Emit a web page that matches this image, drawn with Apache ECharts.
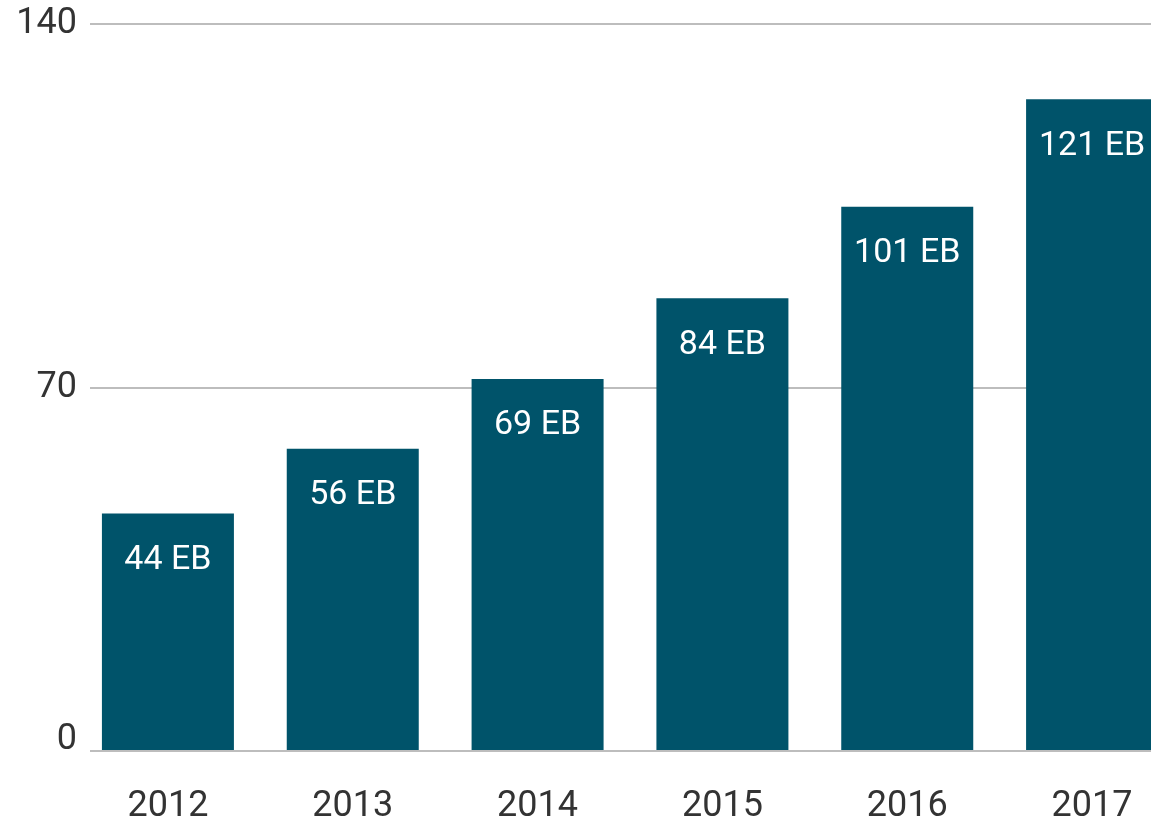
<!DOCTYPE html>
<html>
<head>
<meta charset="utf-8">
<script src="https://cdn.jsdelivr.net/npm/echarts@6/dist/echarts.min.js"></script>
<style>
	html, body { margin: 0; padding: 0; background: #fff; overflow: hidden; }
	/* 画布比窗口宽, 最后一根柱子被窗口截断 */
	#chart { width: 1200px; height: 825px; }
</style>
</head>
<body>
<div id="chart"></div>
<script>
	// 年份
	var years = ['2012', '2013', '2014', '2015', '2016', '2017'];
	// 数据量 (EB)
	var volumes = [44, 56, 69, 84, 101, 121];
	// 刻度
	var yTicks = [0, 70, 140];

	var fontFamily = 'Roboto';
	var textColor = '#333333';
	var barColor = '#00536a';

	var chart = echarts.init(document.getElementById('chart'));

	var option = {
		animation: false,
		backgroundColor: '#ffffff',
		grid: [{
			// 网格线 (到窗口右边 1151)
			left: 90,
			right: 49,
			top: 24,
			bottom: 74
		}, {
			// 柱子
			left: 75.5,
			right: 15.5,
			top: 24,
			bottom: 74
		}],
		xAxis: [{
			gridIndex: 0,
			type: 'value',
			min: 0,
			max: 1,
			show: false
		}, {
			gridIndex: 1,
			type: 'category',
			data: years,
			axisLine: { show: false },
			axisTick: { show: false },
			axisLabel: {
				margin: 39,
				color: textColor,
				fontSize: 36,
				fontFamily: fontFamily
			}
		}],
		yAxis: [{
			gridIndex: 0,
			type: 'value',
			min: yTicks[0],
			max: yTicks[yTicks.length - 1],
			interval: yTicks[1] - yTicks[0],
			axisLine: { show: false },
			axisTick: { show: false },
			axisLabel: {
				margin: 13,
				color: textColor,
				fontSize: 36,
				fontFamily: fontFamily,
				formatter: function(v) {
					return v === 0 ? '{z|0}' : String(v);
				},
				rich: {
					z: {
						fontSize: 36,
						fontFamily: fontFamily,
						color: textColor,
						padding: [0, 0, 22, 0]
					}
				}
			},
			splitLine: {
				lineStyle: { color: '#bdbdbd', width: 2 }
			}
		}, {
			gridIndex: 1,
			type: 'value',
			min: 0,
			max: 135,
			show: false,
			splitLine: { show: false }
		}],
		series: [{
			type: 'bar',
			xAxisIndex: 1,
			yAxisIndex: 1,
			data: volumes,
			barWidth: 132,
			itemStyle: { color: barColor },
			label: {
				show: true,
				position: 'insideTop',
				distance: 30,
				color: '#ffffff',
				fontSize: 34,
				fontFamily: fontFamily,
				formatter: '{c} EB'
			}
		}]
	};

	chart.setOption(option);
</script>
</body>
</html>
